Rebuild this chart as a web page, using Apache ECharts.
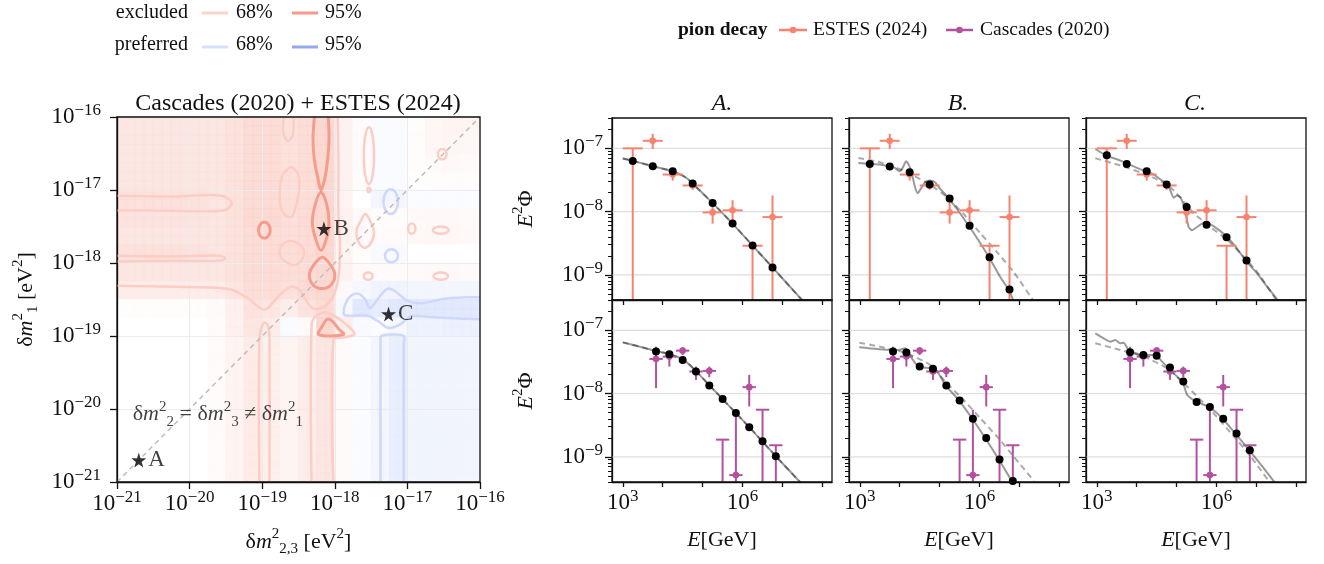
<!DOCTYPE html>
<html>
<head>
<meta charset="utf-8">
<title>pseudo-Dirac fit</title>
<script src="https://cdn.jsdelivr.net/npm/echarts@6.0.0/dist/echarts.min.js"></script>
<style>
  html, body { margin: 0; background: #fff; }
  #chart { width: 1324px; height: 564px; }
</style>
</head>
<body>
<div id="chart"></div>
<script>
const SERIF = 'Liberation Serif';
const INK = '#111111';

// ---------- left panel, all in log10(eV^2): x = dm2_{2,3}, y = dm2_1 ----------
const fieldStep = 0.25;
const fieldLeft = -21;
const fieldTop = -16;
// + excluded (red), - preferred (blue); rows from top (1e-16) to bottom (1e-21)
const fieldRows = [
  [2,2,2,2,2,2,2.3,2.8,2.8,2.3,2.6,3,1,0.3,-0.4,-0.4,0.2,0.6,0.8,0.8],
  [2,2,2,2,2,2,2.3,2.8,2.8,2.3,2.6,3,1,0.3,-0.4,-0.4,0.2,0.6,0.7,0.6],
  [2,2,2,2,2,2,2.3,2.8,2.8,2.4,2.6,3,1,0.3,-0.4,-0.4,0.2,0.4,0.5,0.4],
  [2,2,2,2,2,2,2.3,2.8,2.8,2.5,2.6,3,1,0.2,-0.4,-0.4,0.1,0.2,0.2,0.2],
  [2.4,2.4,2.4,2.4,2.3,2,2.3,2.8,2.8,2.5,2.6,3,0.8,0,-0.8,-0.8,-0.3,-0.3,-0.3,-0.3],
  [2.2,2.2,2.2,2.2,2.1,2,2.3,2.9,2.9,2.5,2.8,3.2,1,0.4,0.2,0.2,0.4,0.5,0.5,0.4],
  [2,2,2,2,2,2,2.3,2.8,2.8,2.5,2.8,3.2,1,0.5,0.3,0.3,0.5,0.6,0.6,0.5],
  [2.3,2.3,2.3,2.3,2.2,2,2.3,2.8,2.8,2.6,2.7,3,0.8,0.2,-0.5,-0.5,0,0,0,0],
  [2,2,2,2,2,2,2.3,2.8,2.8,2.6,2.8,3.4,1,0.4,0.3,0.3,0.4,0.5,0.5,0.4],
  [1.4,1.4,1.4,1.4,1.4,1.5,2,2.6,2.6,2.3,2.8,3.3,0.5,-0.6,-1,-1,-0.8,-0.8,-0.8,-0.8],
  [0.2,0.2,0.2,0.2,0.2,0.4,1.2,2.2,2,1.4,2.2,2.8,-0.6,-2,-1.6,-2,-2,-2,-2,-2],
  [0,0,0,0,0,0.3,1.1,2,1.5,-0.4,0.4,3,1.3,-0.5,-0.3,-0.6,-1.2,-1.2,-1.3,-1.3],
  [0,0,0,0,0,0.3,0.9,1.6,1.3,0.8,1.4,2,0.4,-0.3,-0.8,-1.5,-0.9,-0.9,-0.9,-0.9],
  [0,0,0,0,0,0.3,0.9,1.6,1.3,0.8,1.4,2,0.4,-0.3,-0.8,-1.5,-0.9,-0.9,-0.9,-0.9],
  [0,0,0,0,0,0.3,0.9,1.6,1.3,0.8,1.4,2,0.4,-0.3,-0.8,-1.5,-0.9,-0.9,-0.9,-0.9],
  [0,0,0,0,0,0.3,0.9,1.6,1.3,0.8,1.4,2,0.4,-0.3,-0.8,-1.5,-0.9,-0.9,-0.9,-0.9],
  [0,0,0,0,0,0.3,0.9,1.6,1.3,0.8,1.4,2,0.4,-0.3,-0.8,-1.5,-0.9,-0.9,-0.9,-0.9],
  [0,0,0,0,0,0.3,0.9,1.6,1.3,0.8,1.4,2,0.4,-0.3,-0.8,-1.5,-0.9,-0.9,-0.9,-0.9],
  [0,0,0,0,0,0.3,0.9,1.6,1.3,0.8,1.4,2,0.4,-0.3,-0.8,-1.5,-0.9,-0.9,-0.9,-0.9],
  [0,0,0,0,0,0.3,0.9,1.6,1.3,0.8,1.4,2,0.4,-0.3,-0.8,-1.5,-0.9,-0.9,-0.9,-0.9]
];

const excluded95Open = [
  [[-18.28,-16],[-18.30,-16.3],[-18.28,-16.6],[-18.23,-16.85],[-18.19,-17.0],[-18.14,-16.85],[-18.10,-16.6],[-18.08,-16.3],[-18.09,-16]]
];
const excluded95Loops = [
  [[-18.19,-17.03],[-18.27,-17.2],[-18.31,-17.45],[-18.27,-17.65],[-18.19,-17.83],[-18.11,-17.65],[-18.08,-17.45],[-18.11,-17.2]],
  [[-18.17,-17.92],[-18.08,-18.0],[-18.0,-18.15],[-18.05,-18.3],[-18.17,-18.35],[-18.3,-18.3],[-18.35,-18.15],[-18.27,-18.0]],
  [[-18.22,-18.98],[-18.17,-18.86],[-18.10,-18.77],[-18.03,-18.8],[-17.95,-18.9],[-17.88,-18.98]]
];
const excluded95Ellipses = [[-18.97,-17.55,0.08,0.11]];

const excluded68Open = [
  [[-21,-17.08],[-20.2,-17.09],[-19.7,-17.07],[-19.5,-17.1],[-19.42,-17.18],[-19.5,-17.27],[-19.8,-17.29],[-20.5,-17.28],[-21,-17.28]],
  [[-21,-17.9],[-20.2,-17.91],[-19.6,-17.9],[-19.51,-17.935],[-19.6,-17.97],[-20.2,-17.97],[-21,-17.98]],
  [[-21,-18.31],[-20,-18.33],[-19.45,-18.36],[-19.2,-18.48],[-18.97,-18.64],[-18.8,-18.48],[-18.62,-18.33],[-18.5,-18.36],[-18.4,-18.5],[-18.3,-18.62],[-18.15,-18.6],[-18.02,-18.45],[-17.95,-18.2],[-17.93,-17.8],[-17.95,-17.3],[-17.95,-16.6],[-17.96,-16]],
  [[-19.04,-21],[-19.04,-19.05],[-19.0,-18.86],[-18.96,-18.82],[-18.92,-18.86],[-18.9,-19.05],[-18.9,-21]],
  [[-18.32,-21],[-18.32,-18.85],[-18.25,-18.72],[-18.1,-18.68],[-17.95,-18.76],[-17.8,-18.88],[-17.73,-18.98],[-17.9,-19.02],[-18.02,-19.05],[-18.02,-21]],
  [[-18.70,-16],[-18.71,-16.2],[-18.65,-16.33],[-18.58,-16.25],[-18.57,-16]]
];
const excluded68Loops = [
  [[-18.6,-16.69],[-18.5,-16.8],[-18.49,-17.0],[-18.53,-17.2],[-18.6,-17.37],[-18.72,-17.3],[-18.76,-17.05],[-18.72,-16.8]],
  [[-18.6,-17.7],[-18.45,-17.78],[-18.43,-17.9],[-18.52,-18.02],[-18.65,-18.0],[-18.76,-17.88],[-18.72,-17.75]],
  [[-17.58,-17.33],[-17.5,-17.45],[-17.46,-17.6],[-17.52,-17.75],[-17.6,-17.79],[-17.68,-17.7],[-17.7,-17.55],[-17.64,-17.42]]
];
const excluded68Ellipses = [
  [-17.53,-16.53,0.07,0.39], [-17.53,-17.0,0.02,0.03], [-16.94,-17.53,0.05,0.07], [-16.54,-17.55,0.11,0.05],
  [-16.52,-16.51,0.06,0.07], [-17.54,-18.18,0.06,0.05], [-16.54,-18.18,0.1,0.05]
];
const preferred68Open = [
  [[-16,-18.47],[-16.2,-18.47],[-16.5,-18.49],[-16.8,-18.55],[-17.0,-18.52],[-17.15,-18.4],[-17.26,-18.35],[-17.35,-18.42],[-17.45,-18.55],[-17.52,-18.62],[-17.58,-18.5],[-17.68,-18.42],[-17.78,-18.45],[-17.85,-18.55],[-17.88,-18.68],[-17.85,-18.72],[-17.7,-18.72],[-17.55,-18.72],[-17.4,-18.8],[-17.26,-18.89],[-17.1,-18.84],[-16.95,-18.73],[-16.7,-18.74],[-16.3,-18.76],[-16,-18.77]],
  [[-17.37,-21],[-17.37,-19.1],[-17.36,-19.0],[-17.2,-18.98],[-17.05,-19.0],[-17.05,-19.1],[-17.05,-21]]
];
const preferred68Ellipses = [[-17.23,-17.16,0.1,0.17], [-17.22,-17.9,0.09,0.09]];

const diagonal = [[-21,-21],[-16,-16]];
const benchmarkNames = ['A', 'B', 'C'];
const benchmarkLogX = [-20.7, -18.15, -17.26];
const benchmarkLogY = [-20.7, -17.53, -18.70];
const annotationPos = [-20.79, -20.07];

// ---------- right panels: x = log10(E/GeV), y = log10(E^2 Phi) ----------
const estesLogE = [3.25, 3.75, 4.25, 4.75, 5.25, 5.75, 6.25, 6.75];
const estesHalfWidth = 0.25;
const estesLogFlux = [-7.0, -6.88, -7.414, -7.587, -8.013, -7.98, -8.54, -8.087];
const estesLogFluxHi = [-7.0, -6.77, -7.34, -7.535, -7.85, -7.82, -8.54, -7.745];
const estesLogFluxLo = [null, -7.01, -7.51, -7.655, -8.19, -8.14, null, null];
const estesIsLimit = [1, 0, 0, 0, 0, 0, 1, 0];

const cascLogE = [3.833, 4.167, 4.5, 4.833, 5.167, 5.5, 5.833, 6.167, 6.5, 6.833];
const cascHalfWidth = 0.1667;
const cascLogFlux = [-7.452, -7.415, -7.321, -7.651, -7.641, -8.728, -9.289, -7.898, -8.255, -8.817];
const cascLogFluxHi = [-7.258, -7.337, -7.268, -7.573, -7.573, -8.728, -8.255, -7.704, -8.255, -8.817];
const cascLogFluxLo = [-7.914, -7.573, -7.389, -7.783, -7.741, null, null, -8.203, null, null];
const cascIsLimit = [0, 0, 0, 0, 0, 1, 0, 0, 1, 1];

const estesModelA = [-7.198, -7.283, -7.362, -7.556, -7.866, -8.19, -8.537, -8.883];
const estesModelB = [-7.246, -7.288, -7.377, -7.572, -7.792, -8.222, -8.721, -9.23];
const estesModelC = [-7.11, -7.246, -7.362, -7.572, -7.929, -8.207, -8.406, -8.774];
const cascModelA = [-7.336, -7.378, -7.468, -7.651, -7.872, -8.087, -8.308, -8.533, -8.754, -8.99];
const cascModelB = [-7.336, -7.352, -7.573, -7.609, -7.872, -8.108, -8.397, -8.701, -9.043, -9.384];
const cascModelC = [-7.347, -7.389, -7.4, -7.588, -7.809, -8.134, -8.213, -8.397, -8.633, -8.896];

const curveTopA = [[3.0,-7.16],[3.25,-7.198],[3.75,-7.283],[4.25,-7.362],[4.5,-7.43],[4.62,-7.48],[4.75,-7.556],[5.25,-7.866],[5.75,-8.19],[6.25,-8.537],[6.75,-8.883],[7.55,-9.44]];
const curveBotA = [[3.0,-7.19],[3.5,-7.27],[3.833,-7.33],[4.167,-7.375],[4.5,-7.46],[4.7,-7.56],[4.833,-7.645],[5.5,-8.087],[6.167,-8.53],[6.833,-8.99],[7.5,-9.44]];
const solidTopB = [[2.964,-7.23],[3.256,-7.246],[3.507,-7.257],[3.741,-7.288],[3.883,-7.309],[3.991,-7.362],[4.075,-7.309],[4.159,-7.204],[4.225,-7.257],[4.301,-7.393],[4.384,-7.614],[4.451,-7.708],[4.526,-7.64],[4.635,-7.535],[4.76,-7.509],[4.885,-7.535],[5.011,-7.64],[5.219,-7.782],[5.428,-7.955],[5.729,-8.223],[5.971,-8.454],[6.23,-8.716],[6.514,-9.031],[6.732,-9.241],[6.86,-9.43]];
const dashedTopB = [[2.964,-7.152],[3.507,-7.22],[3.925,-7.309],[4.342,-7.43],[4.76,-7.572],[5.178,-7.771],[5.595,-8.034],[6.013,-8.338],[6.431,-8.637],[6.848,-8.952],[7.36,-9.42]];
const solidBotB = [[2.989,-7.268],[3.758,-7.31],[3.966,-7.31],[4.134,-7.284],[4.301,-7.441],[4.468,-7.573],[4.76,-7.599],[4.927,-7.636],[5.138,-7.861],[5.472,-8.098],[5.806,-8.386],[6.14,-8.701],[6.474,-9.032],[6.808,-9.384],[6.84,-9.42]];
const dashedBotB = [[2.989,-7.195],[3.507,-7.258],[4.175,-7.363],[4.76,-7.546],[5.178,-7.835],[5.595,-8.098],[6.013,-8.386],[6.431,-8.675],[6.848,-8.99],[7.36,-9.38]];
const solidTopC = [[2.963,-7.01],[3.23,-7.11],[3.59,-7.194],[4.007,-7.309],[4.425,-7.414],[4.634,-7.509],[4.759,-7.561],[4.843,-7.666],[4.926,-7.782],[5.01,-7.745],[5.093,-7.771],[5.177,-7.902],[5.219,-8.007],[5.302,-8.244],[5.386,-8.296],[5.511,-8.244],[5.678,-8.181],[5.845,-8.202],[6.012,-8.27],[6.263,-8.401],[6.514,-8.585],[6.722,-8.769],[7.015,-8.978],[7.266,-9.188],[7.558,-9.42]];
const dashedTopC = [[2.963,-7.157],[3.59,-7.272],[4.258,-7.419],[4.843,-7.614],[5.427,-8.023],[5.845,-8.244],[6.263,-8.443],[6.681,-8.716],[7.015,-8.952],[7.516,-9.42]];
const solidBotC = [[2.963,-7.048],[3.172,-7.127],[3.339,-7.179],[3.464,-7.153],[3.59,-7.205],[3.673,-7.195],[3.798,-7.31],[4.133,-7.389],[4.467,-7.389],[4.634,-7.494],[4.801,-7.599],[4.968,-7.704],[5.152,-7.825],[5.261,-8.019],[5.386,-8.087],[5.486,-8.124],[5.678,-8.176],[5.82,-8.213],[6.138,-8.386],[6.455,-8.622],[6.806,-8.885],[7.14,-9.148],[7.474,-9.42]];
const dashedBotC = [[2.963,-7.205],[3.59,-7.31],[4.174,-7.415],[4.759,-7.599],[5.261,-7.888],[5.845,-8.255],[6.43,-8.675],[6.848,-8.99],[7.35,-9.42]];

const panelNames = ['A.', 'B.', 'C.'];
const fluxDecades = [-9, -8, -7];
const energyDecades = [3, 4, 5, 6, 7, 8];
const energyLabels = [3, 6];

// ---------- layout ----------
const yMin = -9.398, yMax = -6.52, xMin = 2.73, xMax = 8.24;
const panelLefts = [612, 849, 1086];
const panelTops = [118, 300];
const ESTES_COLOR = '#f6836f';
const CASC_COLOR = '#b3519f';

const minorY = [];
for (let n = -10; n <= -7; n++) {
  for (let k = 2; k <= 9; k++) {
    const v = n + Math.log10(k);
    if (v >= yMin && v <= yMax) minorY.push(v);
  }
}

const pow10 = v => '{b|10}{s|' + String(Math.round(v)).replace('-', '\u2212') + '}';
const tickRich = {
  b: {fontFamily: SERIF, fontSize: 23, color: INK, lineHeight: 30},
  s: {fontFamily: SERIF, fontSize: 17, color: INK, lineHeight: 14, verticalAlign: 'top'}
};
const nameRich = {
  r: {fontFamily: SERIF, fontSize: 22, color: INK, lineHeight: 30},
  i: {fontFamily: SERIF, fontSize: 22, fontStyle: 'italic', color: INK, lineHeight: 30},
  sp: {fontFamily: SERIF, fontSize: 15, color: INK, lineHeight: 14, verticalAlign: 'top'},
  sb: {fontFamily: SERIF, fontSize: 15, color: INK, lineHeight: 8, verticalAlign: 'bottom'}
};
const axisLineStyle = {color: INK, width: 1.3};

const grids = [{left: 117, top: 117, width: 363, height: 365, show: true, borderColor: INK, borderWidth: 1.3, z: 10}];
for (let r = 0; r < 2; r++) {
  for (let c = 0; c < 3; c++) {
    grids.push({left: panelLefts[c], top: panelTops[r], width: 220, height: 182,
      show: true, borderColor: INK, borderWidth: 1.3, z: 10});
  }
}

const xAxes = [{
  gridIndex: 0, type: 'value', min: -21, max: -16, interval: 1, z: 2,
  axisLine: {onZero: false, lineStyle: axisLineStyle},
  axisTick: {length: 7, lineStyle: axisLineStyle},
  axisLabel: {formatter: pow10, rich: tickRich, margin: 7},
  splitLine: {show: true, lineStyle: {color: '#ececec', width: 1}},
  name: '{r|\u03b4}{i|m}{sp|2}{sb|2,3}{r| [eV}{sp|2}{r|]}', nameLocation: 'middle', nameGap: 45,
  nameTextStyle: {rich: nameRich}
}];
const yAxes = [{
  gridIndex: 0, type: 'value', min: -21, max: -16, interval: 1, z: 2,
  axisLine: {onZero: false, lineStyle: axisLineStyle},
  axisTick: {length: 7, lineStyle: axisLineStyle},
  axisLabel: {formatter: pow10, rich: tickRich, margin: 16},
  splitLine: {show: true, lineStyle: {color: '#ececec', width: 1}},
  name: '{r|\u03b4}{i|m}{sp|2}{sb|1}{r| [eV}{sp|2}{r|]}', nameLocation: 'middle', nameGap: 76,
  nameTextStyle: {rich: nameRich}
}];
for (let p = 0; p < 6; p++) {
  const r = Math.floor(p / 3), c = p % 3, gi = p + 1;
  xAxes.push({
    gridIndex: gi, type: 'value', min: xMin, max: xMax,
    axisLine: {onZero: false, lineStyle: axisLineStyle},
    axisTick: {length: 5, customValues: energyDecades, lineStyle: axisLineStyle},
    axisLabel: {show: r === 1, customValues: energyLabels, formatter: pow10, rich: tickRich, margin: 6},
    splitLine: {show: false},
    name: r === 1 ? '{i|E}{r|[GeV]}' : '', nameLocation: 'middle', nameGap: 43,
    nameTextStyle: {rich: nameRich}
  });
  yAxes.push({
    gridIndex: gi, type: 'value', min: yMin, max: yMax,
    axisLine: {onZero: false, lineStyle: axisLineStyle},
    axisTick: {length: 7, customValues: fluxDecades, lineStyle: axisLineStyle},
    axisLabel: {show: c === 0, customValues: fluxDecades, formatter: pow10, rich: tickRich, margin: 9},
    splitLine: {show: false},
    name: c === 0 ? '{i|E}{sp|2}{r|\u03a6}' : '', nameLocation: 'middle', nameGap: 71,
    nameTextStyle: {rich: nameRich}
  });
}
for (let p = 0; p < 6; p++) {
  yAxes.push({
    gridIndex: p + 1, type: 'value', min: yMin, max: yMax, position: 'left',
    axisLine: {show: false},
    axisTick: {length: 4, customValues: minorY, lineStyle: {color: INK, width: 1}},
    axisLabel: {show: false}, splitLine: {show: false}
  });
}

// ---------- series ----------
const series = [];

// deeper tint of a cell colour, used for the faint mesh lines of the map
function deepen(col, k) {
  const c = echarts.color.parse(col);
  return 'rgb(' + [0, 1, 2].map(i => Math.round(255 - (255 - c[i]) * k)).join(',') + ')';
}
const fieldData = [];
fieldRows.forEach((row, r) => row.forEach((v, c) => {
  fieldData.push([fieldLeft + c * fieldStep, fieldTop - (r + 1) * fieldStep, v]);
}));
series.push({
  type: 'custom', xAxisIndex: 0, yAxisIndex: 0, z: 1, silent: true,
  data: fieldData, encode: {x: 0, y: 1},
  renderItem: (params, api) => {
    const x0 = api.value(0), y0 = api.value(1);
    const a = api.coord([x0, y0]);
    const b = api.coord([x0 + fieldStep, y0 + fieldStep]);
    const fill = api.visual('color');
    const mesh = {stroke: deepen(fill, 1.25), lineWidth: 0.7};
    const mx = (a[0] + b[0]) / 2, my = (a[1] + b[1]) / 2;
    return {type: 'group', children: [
      {type: 'rect', shape: {x: a[0], y: b[1], width: b[0] - a[0] + 0.6, height: a[1] - b[1] + 0.6}, style: {fill: fill}},
      {type: 'line', shape: {x1: a[0], y1: b[1], x2: b[0], y2: b[1]}, style: mesh},
      {type: 'line', shape: {x1: a[0], y1: my, x2: b[0], y2: my}, style: mesh},
      {type: 'line', shape: {x1: a[0], y1: b[1], x2: a[0], y2: a[1]}, style: mesh},
      {type: 'line', shape: {x1: mx, y1: b[1], x2: mx, y2: a[1]}, style: mesh}
    ]};
  }
});

function pathSeries(paths, closed, color, width) {
  return {
    type: 'custom', xAxisIndex: 0, yAxisIndex: 0, z: 4, silent: true,
    data: paths.map((pts, i) => [pts[0][0], pts[0][1], i]), encode: {x: 0, y: 1},
    renderItem: (params, api) => ({
      type: closed ? 'polygon' : 'polyline',
      shape: {points: paths[api.value(2)].map(pt => api.coord(pt)), smooth: 0.35},
      style: {fill: 'none', stroke: color, lineWidth: width}
    })
  };
}
function ellipseSeries(list, color, width) {
  return {
    type: 'custom', xAxisIndex: 0, yAxisIndex: 0, z: 4, silent: true,
    data: list, encode: {x: 0, y: 1},
    renderItem: (params, api) => {
      const c = api.coord([api.value(0), api.value(1)]);
      const s = api.size([api.value(2), api.value(3)]);
      return {type: 'ellipse', shape: {cx: c[0], cy: c[1], rx: s[0], ry: s[1]},
        style: {fill: 'none', stroke: color, lineWidth: width}};
    }
  };
}
const RED68 = '#fbcdc4', RED95 = '#f59d8d', BLUE68 = '#cdd8fb';
series.push(pathSeries(excluded68Open, false, RED68, 2.5));
series.push(pathSeries(excluded68Loops, true, RED68, 2.5));
series.push(ellipseSeries(excluded68Ellipses, RED68, 2.5));
series.push(pathSeries(preferred68Open, false, BLUE68, 2.5));
series.push(ellipseSeries(preferred68Ellipses, BLUE68, 2.5));
series.push(pathSeries(excluded95Open, false, RED95, 3));
series.push(pathSeries(excluded95Loops, true, RED95, 3));
series.push(ellipseSeries(excluded95Ellipses, RED95, 3));

series.push({
  type: 'line', xAxisIndex: 0, yAxisIndex: 0, z: 5, silent: true, showSymbol: false,
  data: diagonal, lineStyle: {color: '#bdbdbd', width: 1.5, type: [5, 4]}
});
const STAR = 'path://M50,0 L61,35 L98,35 L68,57 L79,91 L50,70 L21,91 L32,57 L2,35 L39,35 Z';
series.push({
  type: 'scatter', xAxisIndex: 0, yAxisIndex: 0, z: 6, silent: true,
  symbol: STAR, symbolSize: 15, itemStyle: {color: '#000'},
  data: benchmarkNames.map((n, i) => ({name: n, value: [benchmarkLogX[i], benchmarkLogY[i]]})),
  label: {show: true, position: 'right', distance: 2, formatter: '{b}', fontFamily: SERIF, fontSize: 23, color: INK}
});
series.push({
  type: 'scatter', xAxisIndex: 0, yAxisIndex: 0, z: 6, silent: true,
  symbolSize: 1, itemStyle: {color: 'rgba(0,0,0,0)'},
  data: [annotationPos],
  label: {show: true, position: 'right', distance: 0, rich: nameRich,
    formatter: '{r|\u03b4}{i|m}{sp|2}{sb|2}{r| = \u03b4}{i|m}{sp|2}{sb|3}{r| \u2260 \u03b4}{i|m}{sp|2}{sb|1}'}
});

function errorBarSeries(gi, logE, half, flux, lo, hi, lim, color) {
  return {
    type: 'custom', xAxisIndex: gi, yAxisIndex: gi, z: 4, silent: true,
    data: logE.map((e, i) => [e, flux[i], half, lo[i] == null ? -99 : lo[i], hi[i], lim[i]]),
    encode: {x: 0, y: 1},
    renderItem: (params, api) => {
      const cs = params.coordSys, bottom = cs.y + cs.height;
      const x = api.value(0), y = api.value(1), h = api.value(2);
      const lo = api.value(3), hi = api.value(4), lim = api.value(5);
      const c = api.coord([x, y]);
      const l = api.coord([x - h, y]), r = api.coord([x + h, y]);
      const t = api.coord([x, hi])[1];
      const b = lo < -50 ? bottom : Math.min(bottom, api.coord([x, lo])[1]);
      const st = {stroke: color, lineWidth: 2};
      const kids = [
        {type: 'line', shape: {x1: l[0], y1: c[1], x2: r[0], y2: c[1]}, style: st},
        {type: 'line', shape: {x1: c[0], y1: t, x2: c[0], y2: b}, style: st}
      ];
      if (!lim) kids.push({type: 'circle', shape: {cx: c[0], cy: c[1], r: 3.3}, style: {fill: color}});
      return {type: 'group', children: kids};
    }
  };
}
function gridLineSeries(gi) {
  return {
    type: 'custom', xAxisIndex: gi, yAxisIndex: gi, z: 1, silent: true,
    data: fluxDecades.map(v => [xMin, v]), encode: {x: 0, y: 1},
    renderItem: (params, api) => {
      const cs = params.coordSys;
      const y = api.coord([xMin, api.value(1)])[1];
      return {type: 'line', shape: {x1: cs.x, y1: y, x2: cs.x + cs.width, y2: y},
        style: {stroke: '#dedede', lineWidth: 1.3}};
    }
  };
}

const panelCurves = [
  [curveTopA, curveTopA], [solidTopB, dashedTopB], [solidTopC, dashedTopC],
  [curveBotA, curveBotA], [solidBotB, dashedBotB], [solidBotC, dashedBotC]
];
const panelModels = [estesModelA, estesModelB, estesModelC, cascModelA, cascModelB, cascModelC];

for (let p = 0; p < 6; p++) {
  const gi = p + 1, top = p < 3;
  series.push(gridLineSeries(gi));
  series.push({
    type: 'line', xAxisIndex: gi, yAxisIndex: gi, z: 2, silent: true, showSymbol: false, smooth: 0.2,
    data: panelCurves[p][1], lineStyle: {color: 'rgba(0,0,0,0.33)', width: 2, type: [6, 4]}
  });
  series.push({
    type: 'line', xAxisIndex: gi, yAxisIndex: gi, z: 3, silent: true, showSymbol: false, smooth: 0.2,
    data: panelCurves[p][0], lineStyle: {color: 'rgba(0,0,0,0.4)', width: 2}
  });
  if (top) {
    series.push(errorBarSeries(gi, estesLogE, estesHalfWidth, estesLogFlux, estesLogFluxLo, estesLogFluxHi, estesIsLimit, ESTES_COLOR));
  } else {
    series.push(errorBarSeries(gi, cascLogE, cascHalfWidth, cascLogFlux, cascLogFluxLo, cascLogFluxHi, cascIsLimit, CASC_COLOR));
  }
  const xs = top ? estesLogE : cascLogE;
  series.push({
    type: 'scatter', xAxisIndex: gi, yAxisIndex: gi, z: 6, silent: true,
    symbolSize: 8, itemStyle: {color: '#000', opacity: 1},
    data: xs.map((e, i) => [e, panelModels[p][i]])
  });
}

// ---------- titles and legends ----------
const txt = (x, y, text, size, extra) => Object.assign({
  type: 'text', x: x, y: y, silent: true,
  style: Object.assign({text: text, fontFamily: SERIF, fontSize: size, fill: INK, align: 'left', verticalAlign: 'middle'}, extra || {})
});
const seg = (x1, x2, y, color, w) => ({type: 'line', silent: true, shape: {x1: x1, y1: y, x2: x2, y2: y}, style: {stroke: color, lineWidth: w}});

const graphics = [
  txt(298, 104, 'Cascades (2020) + ESTES (2024)', 24, {align: 'center'}),
  txt(722, 104, panelNames[0], 24, {align: 'center', fontStyle: 'italic'}),
  txt(958, 104, panelNames[1], 24, {align: 'center', fontStyle: 'italic'}),
  txt(1195, 104, panelNames[2], 24, {align: 'center', fontStyle: 'italic'}),
  txt(188, 13, 'excluded', 20, {align: 'right'}),
  txt(188, 45, 'preferred', 20, {align: 'right'}),
  seg(202, 228, 13, '#fdd3ca', 3), txt(236, 13, '68%', 20),
  seg(292, 318, 13, '#f59a88', 3), txt(325, 13, '95%', 20),
  seg(202, 228, 47, '#d6e0fd', 3), txt(236, 45, '68%', 20),
  seg(292, 318, 47, '#94a8f4', 3), txt(325, 45, '95%', 20),
  txt(678, 30, 'pion decay', 19.5, {fontWeight: 'bold'}),
  seg(779, 807, 30, ESTES_COLOR, 2.5), {type: 'circle', silent: true, shape: {cx: 793, cy: 30, r: 3.3}, style: {fill: ESTES_COLOR}},
  txt(813, 30, 'ESTES (2024)', 19.5),
  seg(946, 973, 30, CASC_COLOR, 2.5), {type: 'circle', silent: true, shape: {cx: 959.5, cy: 30, r: 3.3}, style: {fill: CASC_COLOR}},
  txt(980, 30, 'Cascades (2020)', 19.5)
];

const option = {
  animation: false,
  backgroundColor: '#ffffff',
  grid: grids,
  xAxis: xAxes,
  yAxis: yAxes,
  visualMap: {
    show: false, type: 'continuous', seriesIndex: 0, dimension: 2, min: -3, max: 3,
    inRange: {color: ['#d4defc', '#ffffff', '#fbd9d3']}
  },
  graphic: graphics,
  series: series
};

const chart = echarts.init(document.getElementById('chart'), null, {renderer: 'canvas'});
chart.setOption(option);
window.addEventListener('resize', chart.resize);
</script>
</body>
</html>
